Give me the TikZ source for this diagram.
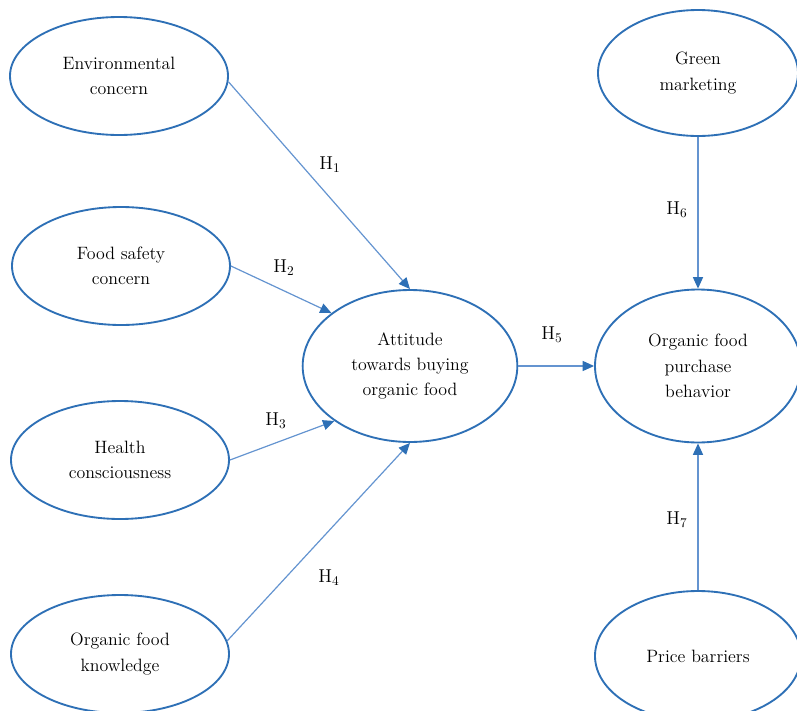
\documentclass[tikz,border=0pt]{standalone}
\usetikzlibrary{shapes.geometric,arrows.meta}
\definecolor{bleu}{RGB}{46,112,182}
\definecolor{bleuclair}{RGB}{100,148,208}

\begin{document}
\begin{tikzpicture}[
    x=0.75pt, y=-0.75pt, % une unité = un pixel, axe y vers le bas
    % Réglages des ellipses (variables du modèle)
    var/.style={ellipse, draw=bleu, line width=1.4pt, fill=white, inner sep=0pt,
        minimum width=163.5pt, minimum height=88.5pt, align=center,
        font=\fontsize{13.4}{19}\selectfont},
    grande/.style={minimum width=161pt, minimum height=114pt},
    % Flèches des hypothèses
    fleche/.style={draw=bleuclair, line width=0.9pt,
        -{Triangle[length=8.5pt, width=7.5pt, color=bleu]}},
    hyp/.style={font=\fontsize{14}{16}\selectfont}
]
\useasboundingbox (0,0) rectangle (797,711);
% Variables à gauche
\node[var] (env) at (119,76) {Environmental\\concern};
\node[var] (food) at (121,266) {Food safety\\concern};
\node[var] (health) at (120,460) {Health\\consciousness};
\node[var] (know) at (120,654) {Organic food\\knowledge};
% Centre et droite
\node[var, grande] (att) at (410,366) {Attitude\\towards buying\\organic food};
\node[var, minimum width=150pt, minimum height=94.5pt] (green) at (698,73) {Green\\marketing};
\node[var, minimum width=154.5pt, minimum height=114.75pt] (pur) at (698,366) {Organic food\\purchase\\behavior};
\node[var, minimum width=154.5pt, minimum height=97.5pt] (price) at (698,656) {Price barriers};
% Hypothèses
\draw[fleche] (env.-3) -- (att.north);
\draw[fleche] (food.east) -- (att.146);
\draw[fleche] (health.east) -- (att.216);
\draw[fleche] (know.7) -- (att.south);
\draw[fleche] (att.east) -- (pur.west);
\draw[fleche] (green.south) -- (pur.north);
\draw[fleche] (price.north) -- (pur.south);
% Étiquettes
\node[hyp] (h1) at (330,165) {H$_1$};
\node[hyp] (h2) at (284,268) {H$_2$};
\node[hyp] (h3) at (276,421) {H$_3$};
\node[hyp] (h4) at (329,578) {H$_4$};
\node[hyp] (h5) at (552,335) {H$_5$};
\node[hyp] (h6) at (677,210) {H$_6$};
\node[hyp] (h7) at (677,520) {H$_7$};
\end{tikzpicture}
\end{document}
